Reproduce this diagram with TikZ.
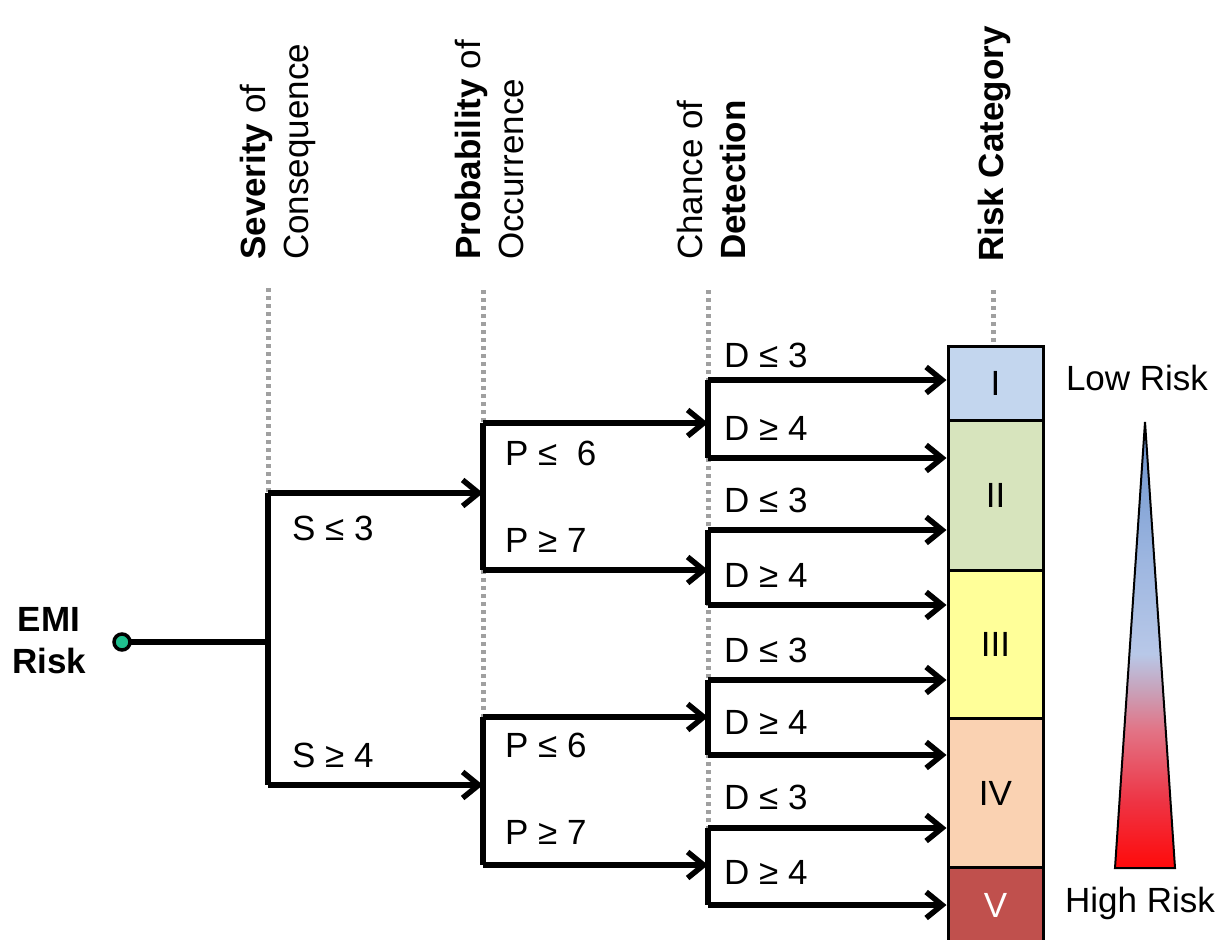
\documentclass[tikz,border=0pt]{standalone}
\usepackage{fontspec}
\setmainfont{Liberation Sans}
\usetikzlibrary{arrows.meta}
\definecolor{catI}{HTML}{C3D6EE}
\definecolor{catII}{HTML}{D7E4BD}
\definecolor{catIII}{HTML}{FFFF99}
\definecolor{catIV}{HTML}{FAD2B2}
\definecolor{catV}{HTML}{C0504D}
\definecolor{dotfill}{HTML}{1FC08E}
\definecolor{guidegray}{HTML}{A0A0A0}
\definecolor{scaleA}{HTML}{FF0A0A}
\definecolor{scaleB}{HTML}{EE3444}
\definecolor{scaleC}{HTML}{E27486}
\definecolor{scaleD}{HTML}{C8A2BA}
\definecolor{scaleE}{HTML}{B8C8E8}
\definecolor{scaleF}{HTML}{9DB6E0}
\definecolor{scaleG}{HTML}{6A92CC}
% risk scale: red at the bottom, mauve in the middle, blue at the top
\pgfdeclareverticalshading{riskscale}{100bp}{%
  color(0bp)=(scaleA); color(25bp)=(scaleA);
  color(32.5bp)=(scaleB); color(40.5bp)=(scaleC);
  color(45bp)=(scaleD); color(49bp)=(scaleE);
  color(59.5bp)=(scaleF); color(75bp)=(scaleG);
  color(100bp)=(scaleG)}
\begin{document}
\begin{tikzpicture}[x=1pt,y=-1pt,
  every node/.style={font=\fontsize{35}{43}\selectfont, inner sep=0pt},
  guide/.style={draw=guidegray, line width=5pt, dash pattern=on 4pt off 4pt},
  branch/.style={line width=5.5pt},
  flow/.style={line width=5.5pt, -{Straight Barb[length=16pt,width=26pt]}},
  header/.style={rotate=90, anchor=west, align=left},
  catbox/.style={draw=black, line width=3pt, minimum width=95pt, anchor=north},
  cond/.style={anchor=west}]
\useasboundingbox (0,0) rectangle (1225,939);

% column headers
\node[header] (hsev) at (278,260) {\textbf{Severity} of\\Consequence};
\node[header] (hprob) at (489,260) {\textbf{Probability} of\\Occurrence};
\node[header] (hdet) at (711,260) {Chance of\\\textbf{Detection}};
\node[header] (hcat) at (995,262) {\textbf{Risk Category}};

% risk category boxes
\node[catbox, fill=catI, minimum height=74pt] (c1) at (995.5,345) {I};
\node[catbox, fill=catII, minimum height=150pt] (c2) at (995.5,419) {II};
\node[catbox, fill=catIII, minimum height=148pt] (c3) at (995.5,569) {III};
\node[catbox, fill=catIV, minimum height=149pt] (c4) at (995.5,717) {IV};
\node[catbox, fill=catV, minimum height=76pt, text=white] (c5) at (995.5,866) {V};

% dotted column guides
\coordinate (gs) at (268,288);
\coordinate (gp) at (483,290);
\coordinate (gd) at (708,290);
\coordinate (gc) at (993,290);
\draw[guide] (gs) -- (268,785);
\draw[guide] (gp) -- (483,865);
\draw[guide] (gd) -- (708,905);
\draw[guide] (gc) -- (gc |- c1.north);

% root
\node[font=\fontsize{35}{42}\selectfont\bfseries, align=center] (emitxt) at (49,641) {EMI\\Risk};
\coordinate (s0) at (268,642);
\coordinate (sa) at (268,493);
\coordinate (sb) at (268,785);
\coordinate (pa) at (483,493);
\coordinate (pb) at (483,785);
\coordinate (pa1) at (483,423);
\coordinate (pa2) at (483,570);
\coordinate (pb1) at (483,717);
\coordinate (pb2) at (483,865);
\coordinate (d1) at (708,423);
\coordinate (d2) at (708,570);
\coordinate (d3) at (708,717);
\coordinate (d4) at (708,865);
\coordinate (d1a) at (708,380);
\coordinate (d1b) at (708,458);
\coordinate (d2a) at (708,530);
\coordinate (d2b) at (708,605);
\coordinate (d3a) at (708,680);
\coordinate (d3b) at (708,755);
\coordinate (d4a) at (708,828);
\coordinate (d4b) at (708,905);

% severity split
\draw[branch] (122,642) -- (s0);
\draw[branch] (sa) -- (sb);
\draw[flow] (sa) -- (pa);
\draw[flow] (sb) -- (pb);

% probability splits
\draw[branch] (pa1) -- (pa2);
\draw[branch] (pb1) -- (pb2);
\draw[flow] (pa1) -- (d1);
\draw[flow] (pa2) -- (d2);
\draw[flow] (pb1) -- (d3);
\draw[flow] (pb2) -- (d4);

% detection splits
\draw[branch] (d1a) -- (d1b);
\draw[branch] (d2a) -- (d2b);
\draw[branch] (d3a) -- (d3b);
\draw[branch] (d4a) -- (d4b);
\draw[flow] (d1a) -- (d1a -| c1.west);
\draw[flow] (d1b) -- (d1b -| c2.west);
\draw[flow] (d2a) -- (d2a -| c2.west);
\draw[flow] (d2b) -- (d2b -| c3.west);
\draw[flow] (d3a) -- (d3a -| c3.west);
\draw[flow] (d3b) -- (d3b -| c4.west);
\draw[flow] (d4a) -- (d4a -| c4.west);
\draw[flow] (d4b) -- (d4b -| c5.west);

\node[circle, draw=black, line width=3.5pt, fill=dotfill, minimum size=16pt] (emi) at (122,642) {};

% condition labels
\node[cond] (ls1) at (292,528) {S ≤ 3};
\node[cond] (ls2) at (292,755) {S ≥ 4};
\node[cond] (lp1) at (505,453) {P ≤ \ 6};
\node[cond] (lp2) at (505,540) {P ≥ 7};
\node[cond] (lp3) at (505,745) {P ≤ 6};
\node[cond] (lp4) at (505,832) {P ≥ 7};
\node[cond] (ld1) at (724,355) {D ≤ 3};
\node[cond] (ld2) at (724,428) {D ≥ 4};
\node[cond] (ld3) at (724,500) {D ≤ 3};
\node[cond] (ld4) at (724,575) {D ≥ 4};
\node[cond] (ld5) at (724,650) {D ≤ 3};
\node[cond] (ld6) at (724,722) {D ≥ 4};
\node[cond] (ld7) at (724,797) {D ≤ 3};
\node[cond] (ld8) at (724,872) {D ≥ 4};

% risk scale
\node (low) at (1137,378) {Low Risk};
\node (high) at (1140,903) {High Risk};
\shade[shading=riskscale] (1145,422) -- (1175,868) -- (1115,868) -- cycle;
\draw[line width=2pt, line join=miter] (1145,422) -- (1175,868) -- (1115,868) -- cycle;
\end{tikzpicture}
\end{document}
